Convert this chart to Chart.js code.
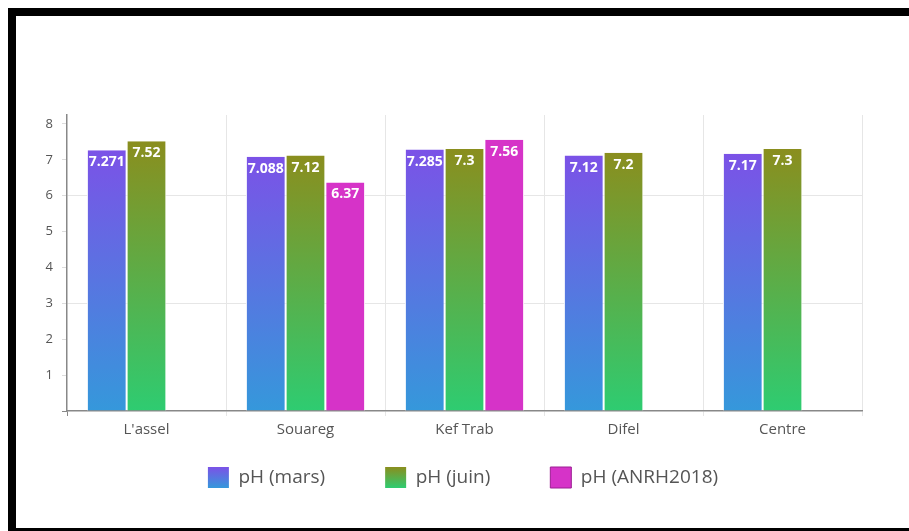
<!DOCTYPE html>
<html>
<head>
<meta charset="utf-8">
<script src="https://cdn.jsdelivr.net/npm/chart.js@4/dist/chart.umd.min.js"></script>
<style>
  html, body { margin: 0; padding: 0; background: #fff; }
  #wrap { position: relative; width: 909px; height: 531px; overflow: hidden; }
  #chart { position: absolute; left: 0; top: 0; }
  #frame {
    position: absolute; left: 8px; top: 8px;
    width: 1000px; height: 512px;
    border: 8px solid #000;
    pointer-events: none;
  }
</style>
</head>
<body>
<div id="wrap">
  <canvas id="chart" width="909" height="531"></canvas>
  <div id="frame"></div>
</div>
<script>
// pH measurements per site
const categories = ["L'assel", "Souareg", "Kef Trab", "Difel", "Centre"];
const seriesNames = ["pH (mars)", "pH (juin)", "pH (ANRH2018)"];
const phMars = [7.271, 7.088, 7.285, 7.12, 7.17];
const phJuin = [7.52, 7.12, 7.3, 7.2, 7.3];
const phAnrh = [null, 6.37, 7.56, null, null];
const yTickValues = [0, 1, 2, 3, 4, 5, 6, 7, 8];
const yGridValues = [3, 6];

// gradient stops (top of bar -> bottom of bar)
const palette = [
  ['#7b52e7', '#3598db'],
  ['#8a8e1e', '#2ecc71'],
  ['#d633c8', '#d633c8']
];

const FONT = "'Open Sans', 'Noto Sans', sans-serif";

function barGradient(i) {
  return function (ctx) {
    const chart = ctx.chart;
    const y = chart.scales && chart.scales.y;
    if (!y || ctx.type !== 'data' || ctx.parsed == null || ctx.parsed.y == null) return palette[i][0];
    const top = y.getPixelForValue(ctx.parsed.y);
    const base = y.getPixelForValue(0);
    if (!isFinite(top) || !isFinite(base) || top === base) return palette[i][0];
    const g = chart.ctx.createLinearGradient(0, top, 0, base);
    g.addColorStop(0, palette[i][0]);
    g.addColorStop(1, palette[i][1]);
    return g;
  };
}

const LEGEND_BOX_TOP = 467;
const LEGEND_PAD = 60;
const LEGEND_SHIFT_X = 17;

// white value labels inside the top of each bar
const valueLabels = {
  id: 'valueLabels',
  afterDatasetsDraw(chart) {
    const ctx = chart.ctx;
    ctx.save();
    ctx.font = "bold 14px " + FONT;
    ctx.fillStyle = '#ffffff';
    ctx.textAlign = 'center';
    ctx.textBaseline = 'middle';
    chart.data.datasets.forEach((ds, di) => {
      const meta = chart.getDatasetMeta(di);
      meta.data.forEach((el, i) => {
        const v = ds.data[i];
        if (v == null) return;
        ctx.fillText(String(v), el.x, el.y + 12);
      });
    });
    ctx.restore();
  }
};

// place the legend row below the axis labels
const legendPlacement = {
  id: 'legendPlacement',
  afterLayout(chart) {
    const lg = chart.legend;
    if (!lg) return;
    const h = lg.height;
    lg.top = LEGEND_BOX_TOP - LEGEND_PAD;
    lg.bottom = lg.top + h;
    lg.left += LEGEND_SHIFT_X;
    lg.right += LEGEND_SHIFT_X;
  }
};

new Chart(document.getElementById('chart'), {
  type: 'bar',
  data: {
    labels: categories,
    datasets: [
      { label: seriesNames[0], data: phMars, backgroundColor: barGradient(0) },
      { label: seriesNames[1], data: phJuin, backgroundColor: barGradient(1) },
      { label: seriesNames[2], data: phAnrh, backgroundColor: barGradient(2) }
    ]
  },
  options: {
    responsive: false,
    animation: false,
    devicePixelRatio: 1,
    layout: { padding: { left: 30, right: 47, top: 115, bottom: 0 } },
    datasets: {
      bar: {
        categoryPercentage: 0.75,
        barPercentage: 1,
        borderColor: '#ffffff',
        borderWidth: { left: 1, right: 1 },
        borderSkipped: false
      }
    },
    scales: {
      x: {
        offset: true,
        afterFit(s) { s.height = 29; },
        border: { color: '#888', width: 1.5 },
        grid: {
          offset: true,
          drawTicks: true,
          tickLength: 5,
          color: (c) => (c.index === 0 || c.index === categories.length) ? 'rgba(0,0,0,0)' : '#e6e6e6',
          tickColor: (c) => c.index === 0 ? '#888' : (c.index === categories.length ? 'rgba(0,0,0,0)' : '#e6e6e6')
        },
        ticks: {
          color: '#555',
          font: { family: FONT, size: 15 },
          padding: 5,
          maxRotation: 0
        }
      },
      y: {
        min: 0,
        max: 8.25,
        afterFit(s) { s.width = 37; },
        afterBuildTicks(s) { s.ticks = yTickValues.map(v => ({ value: v })); },
        border: { color: '#888', width: 1.5 },
        grid: {
          drawTicks: true,
          tickLength: 5,
          color: (c) => (c.tick && yGridValues.includes(c.tick.value)) ? '#e6e6e6' : 'rgba(0,0,0,0)',
          tickColor: (c) => (c.tick && c.tick.value === 0) ? '#888' : '#dcdcdc'
        },
        ticks: {
          color: '#555',
          font: { family: FONT, size: 13 },
          padding: 9,
          callback: (v) => v === 0 ? '' : String(v)
        }
      }
    },
    plugins: {
      tooltip: { enabled: false },
      legend: {
        position: 'bottom',
        labels: {
          color: '#555',
          font: { family: FONT, size: 19 },
          boxWidth: 21,
          boxHeight: 21,
          padding: LEGEND_PAD,
          generateLabels(chart) {
            const items = Chart.defaults.plugins.legend.labels.generateLabels(chart);
            const ctx = chart.ctx;
            items.forEach((it, i) => {
              const g = ctx.createLinearGradient(0, LEGEND_BOX_TOP, 0, LEGEND_BOX_TOP + 21);
              g.addColorStop(0, palette[i][0]);
              g.addColorStop(1, palette[i][1]);
              it.fillStyle = g;
              it.strokeStyle = i === 2 ? '#9c1f93' : 'rgba(0,0,0,0)';
              it.lineWidth = i === 2 ? 1 : 0;
            });
            return items;
          }
        }
      }
    }
  },
  plugins: [valueLabels, legendPlacement]
});
</script>
</body>
</html>
